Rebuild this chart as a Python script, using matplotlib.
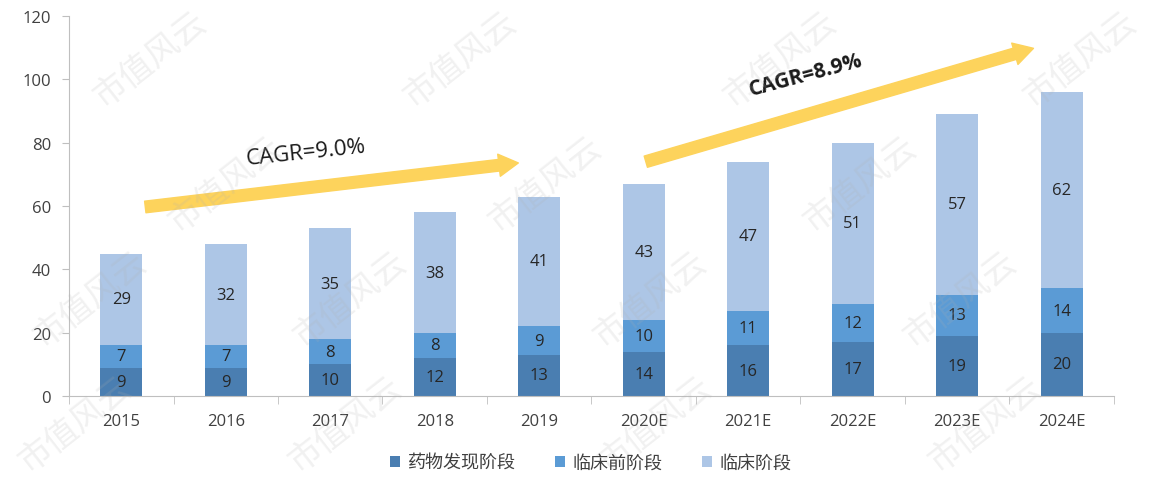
import numpy as np
import matplotlib
matplotlib.use("Agg")
import matplotlib.pyplot as plt

plt.rcParams['font.family'] = ['Open Sans', 'Noto Sans CJK SC', 'DejaVu Sans']

# data
years = ['2015', '2016', '2017', '2018', '2019', '2020E', '2021E', '2022E', '2023E', '2024E']
discovery = [9, 9, 10, 12, 13, 14, 16, 17, 19, 20]
preclinical = [7, 7, 8, 8, 9, 10, 11, 12, 13, 14]
clinical = [29, 32, 35, 38, 41, 43, 47, 51, 57, 62]
series_names = ['药物发现阶段', '临床前阶段', '临床阶段']
colors = ['#4A7EB1', '#5B9BD5', '#ADC6E6']

fig = plt.figure(figsize=(11.54, 4.89), dpi=100)
ax = fig.add_axes([0.0598, 0.1881, 0.9055, 0.7771])

x = np.arange(len(years))
bottom = np.zeros(len(years))
for vals, name, col in zip([discovery, preclinical, clinical], series_names, colors):
    bars = ax.bar(x, vals, width=0.4, bottom=bottom, color=col, label=name, zorder=2)
    for b, v in zip(bars, vals):
        ax.text(b.get_x() + b.get_width() / 2, b.get_y() + v / 2, str(v),
                ha='center', va='center', fontsize=12, color='#262626', zorder=3)
    bottom += np.array(vals)

ax.set_xlim(-0.5, 9.5)
ax.set_ylim(0, 120)
ax.set_yticks(range(0, 121, 20))
ax.set_xticks(x)
ax.set_xticklabels(years)
ax.set_xticks(np.arange(-0.5, 10, 1), minor=True)
ax.tick_params(axis='x', which='major', length=0, pad=12, labelsize=12, labelcolor='#404040')
ax.tick_params(axis='x', which='minor', length=6, color='#BFBFBF')
ax.tick_params(axis='y', length=5, color='#BFBFBF', labelsize=12, labelcolor='#404040', pad=8)
for s in ['top', 'right']:
    ax.spines[s].set_visible(False)
for s in ['left', 'bottom']:
    ax.spines[s].set_color('#BFBFBF')

# CAGR arrows
arrow_col = '#FDD35C'
ax.annotate('', xy=(3.8, 73.6), xytext=(0.23, 59.7),
            arrowprops=dict(arrowstyle='simple,head_width=0.8,head_length=0.7,tail_width=0.42',
                            mutation_scale=20, color=arrow_col, shrinkA=0, shrinkB=0), zorder=4)
ax.annotate('', xy=(8.73, 109.8), xytext=(5.02, 74.0),
            arrowprops=dict(arrowstyle='simple,head_width=0.8,head_length=0.7,tail_width=0.42',
                            mutation_scale=20, color=arrow_col, shrinkA=0, shrinkB=0), zorder=4)
ax.text(1.77, 77, 'CAGR=9.0%', fontsize=16, color='#1A1A1A', rotation=6,
        ha='center', va='center', zorder=5)
ax.text(6.55, 101.5, 'CAGR=8.9%', fontsize=15, fontweight='bold', color='#1A1A1A',
        rotation=15, ha='center', va='center', zorder=5)

leg = fig.legend(loc='lower center', bbox_to_anchor=(0.512, 0.0), ncol=3, frameon=False,
                 handlelength=0.55, handleheight=0.55, handletextpad=0.4,
                 columnspacing=2.2, prop={'family': ['Noto Sans CJK SC'], 'size': 13})
for t in leg.get_texts():
    t.set_color('#404040')

# faint watermark tiles (pixel centres)
wm_rows = [(60, [150, 460, 780, 1080]),
           (185, [225, 545, 860]),
           (300, [90, 350, 650, 960]),
           (425, [75, 345, 655, 985])]
for py, pxs in wm_rows:
    for px in pxs:
        fig.text(px / 1154, 1 - py / 489, '市值风云', fontsize=24, color='#B0B0B0', alpha=0.18,
                 rotation=38, ha='center', va='center', family=['Noto Sans CJK SC'],
                 fontweight='light')

fig.savefig('out.png', dpi=100)
